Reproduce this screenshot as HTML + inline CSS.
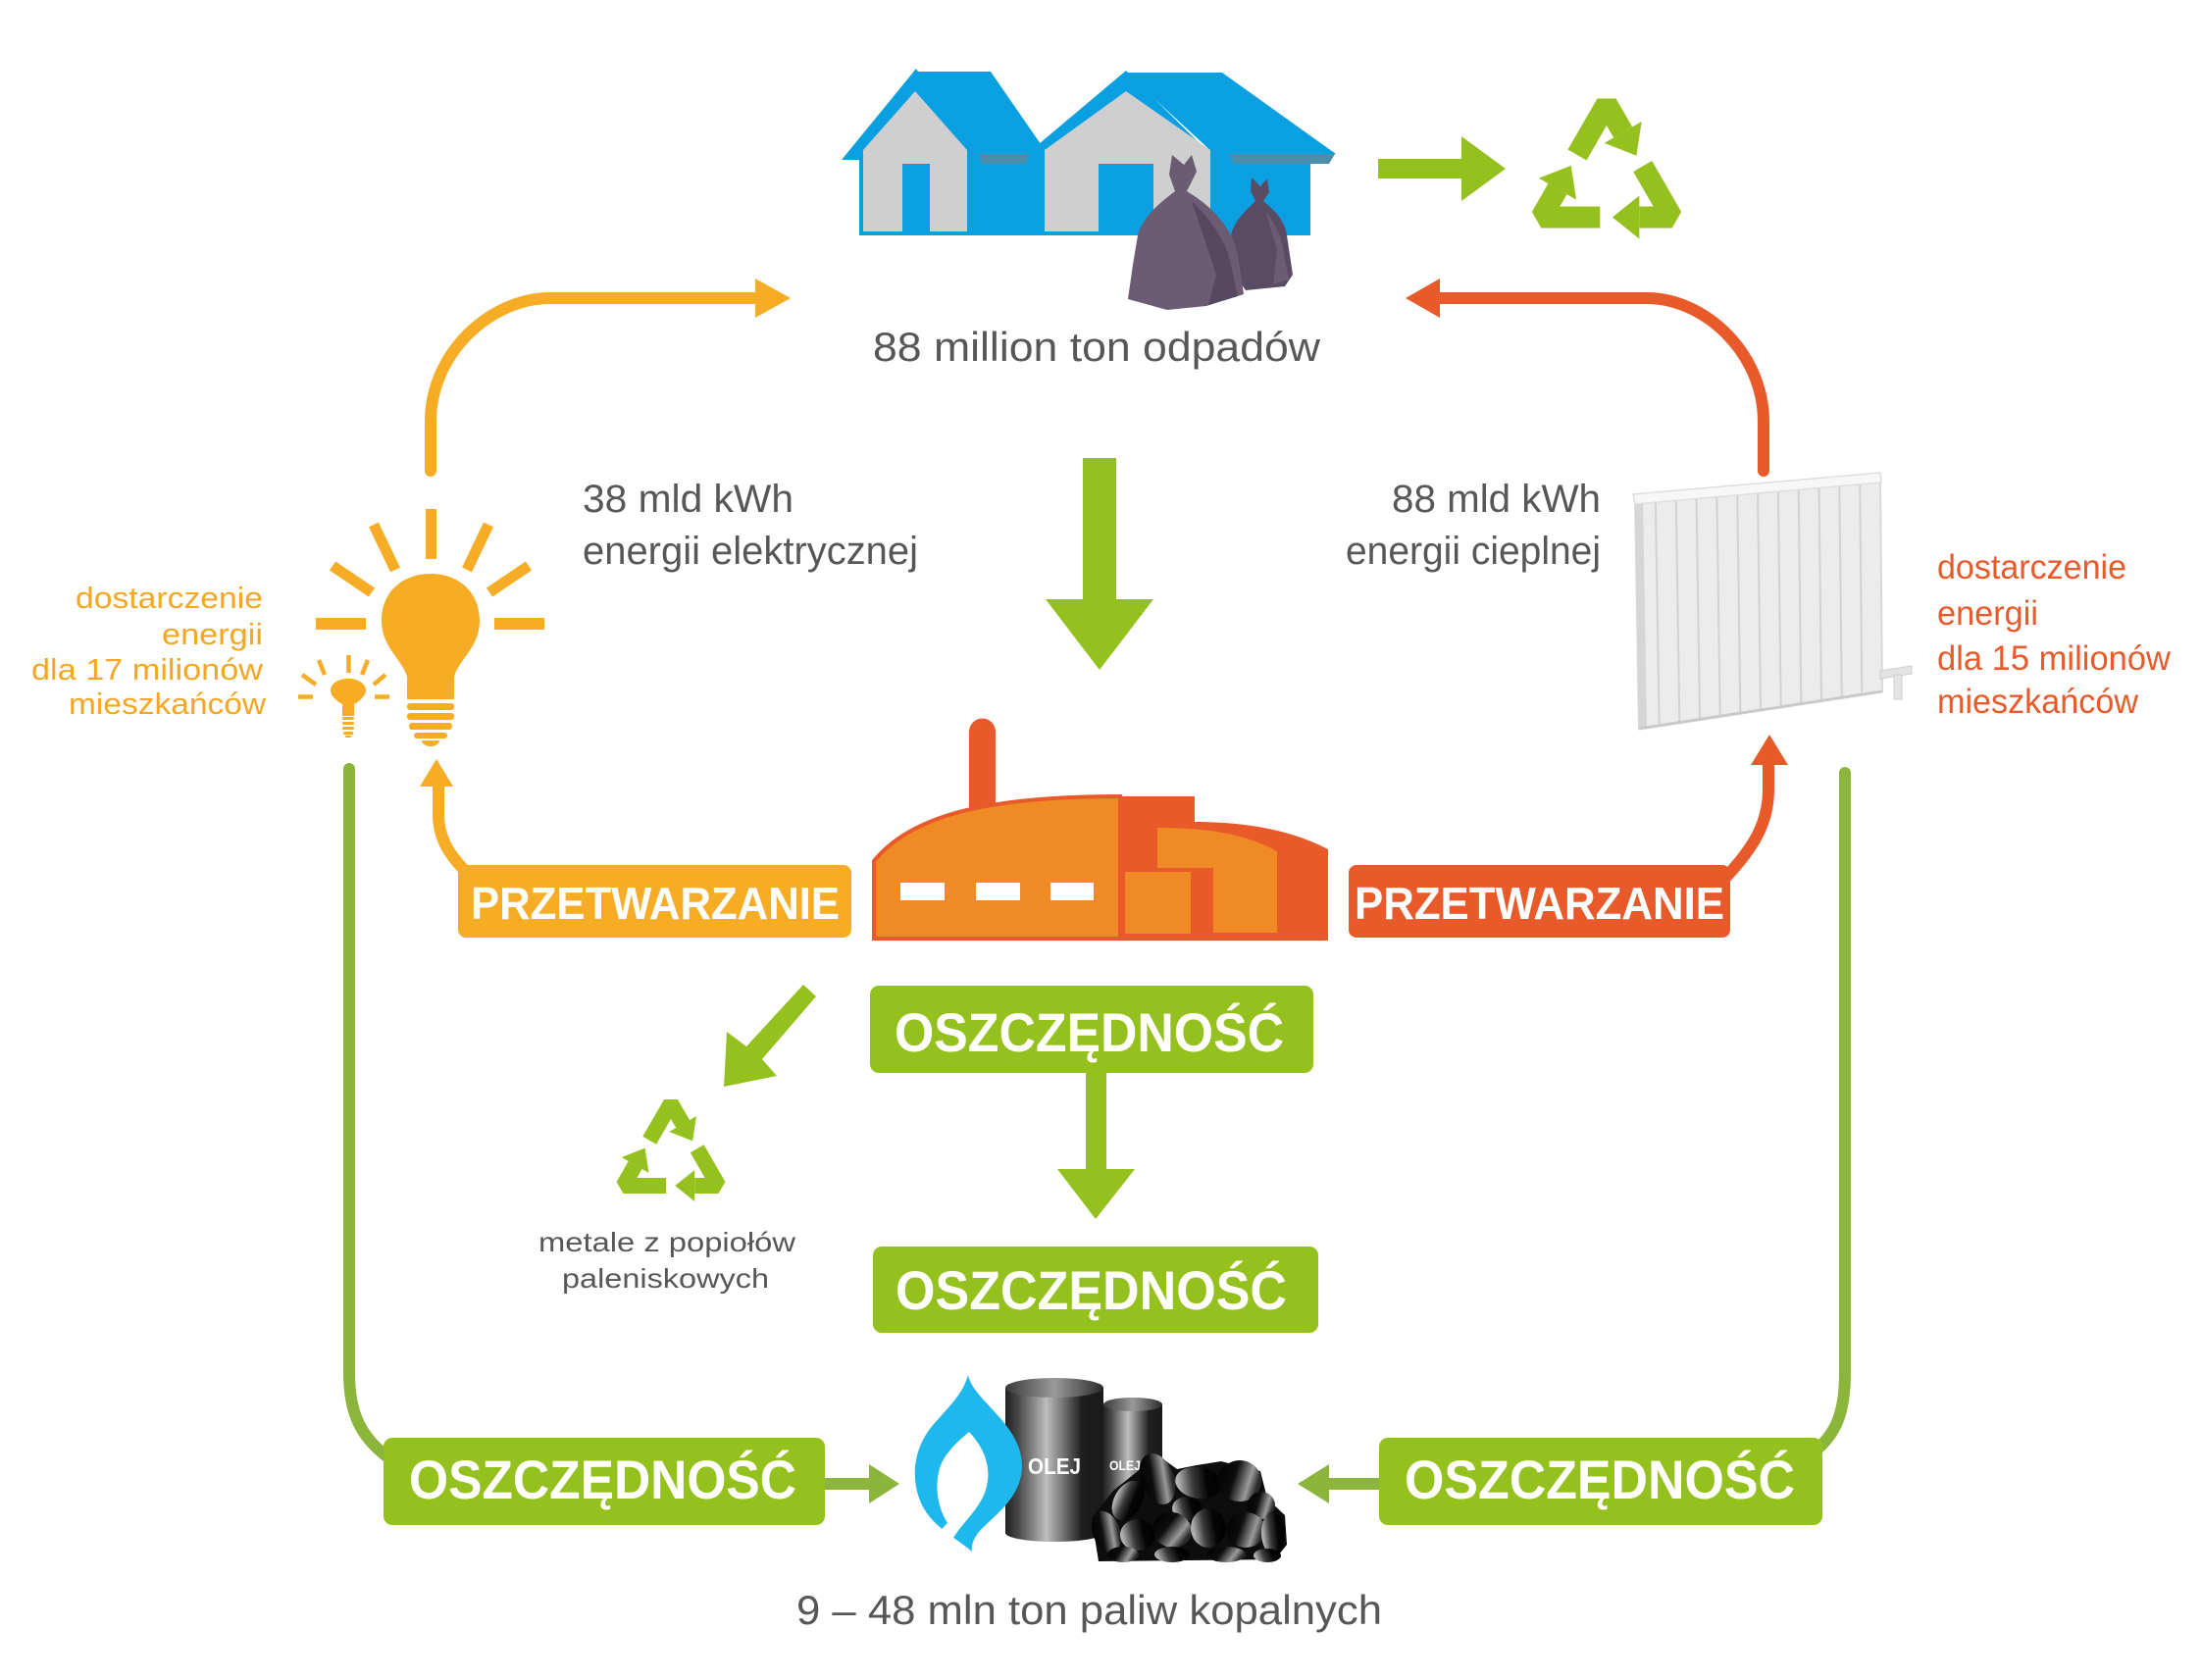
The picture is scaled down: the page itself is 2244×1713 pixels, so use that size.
<!DOCTYPE html>
<html><head><meta charset="utf-8"><style>html,body{margin:0;padding:0;background:#fff}svg{display:block}</style></head>
<body>
<svg width="2244" height="1713" viewBox="0 0 2244 1713" xmlns="http://www.w3.org/2000/svg" font-family="'Liberation Sans', sans-serif">
<defs>
<linearGradient id="bar" x1="0" y1="0" x2="1" y2="0">
<stop offset="0" stop-color="#222"/><stop offset="0.12" stop-color="#444"/><stop offset="0.42" stop-color="#bdbdbd"/><stop offset="0.62" stop-color="#666"/><stop offset="0.78" stop-color="#1e1e1e"/><stop offset="1" stop-color="#1a1a1a"/>
</linearGradient>
<linearGradient id="bartop" x1="0" y1="0" x2="1" y2="0">
<stop offset="0" stop-color="#3a3a3a"/><stop offset="0.5" stop-color="#9a9a9a"/><stop offset="1" stop-color="#2a2a2a"/>
</linearGradient>
<linearGradient id="g1" x1="0" y1="0" x2="1" y2="0.3">
<stop offset="0" stop-color="#000"/><stop offset="0.45" stop-color="#0d0d0d"/><stop offset="0.8" stop-color="#9a9a9a"/><stop offset="1" stop-color="#2a2a2a"/>
</linearGradient>
<linearGradient id="g2" x1="0" y1="0.2" x2="1" y2="0">
<stop offset="0" stop-color="#b0b0b0"/><stop offset="0.3" stop-color="#3a3a3a"/><stop offset="0.6" stop-color="#050505"/><stop offset="1" stop-color="#000"/>
</linearGradient>
</defs>
<rect width="2244" height="1713" fill="#fff"/>

<!-- Houses -->
<polygon points="934,73 1010,73 1068,157 990,157" fill="#0a9fe0"/>
<polygon points="858,163 934,70 995,163" fill="#0a9fe0"/>
<rect x="876" y="153" width="460" height="87" fill="#0a9fe0"/>
<polygon points="880,236 880,153 933,93 986,153 986,236" fill="#cfcfcf"/>
<polygon points="1148,74 1246,74 1362,157 1238,157" fill="#0a9fe0"/>
<polygon points="1040,163 1148,72 1240,163" fill="#0a9fe0"/>
<polygon points="1065,236 1065,153 1148,93 1234,153 1234,236" fill="#cfcfcf"/>
<rect x="920" y="167" width="28" height="69" fill="#0a9fe0"/>
<rect x="1120" y="167" width="56" height="69" fill="#0a9fe0"/>
<polygon points="998,157 1049,157 1046,167 1001,167" fill="#4a8eac"/>
<polygon points="1253,157 1361,157 1355,167 1258,167" fill="#4a8eac"/>
<!-- bags -->
<path d="M1276 181 L1285 190 L1292 182 L1294 196 L1288 205 C1300 215,1310 225,1312 240 L1318 280 L1310 292 L1270 296 L1262 285 L1255 240 C1258 225,1270 215,1280 205 L1275 195 Z" fill="#5a4b65"/>
<path d="M1195 158 L1207 168 L1215 158 L1220 175 L1210 195 C1235 210,1255 230,1262 260 L1268 300 L1230 312 L1190 316 L1150 305 L1155 270 L1160 240 C1165 220,1185 205,1198 195 L1192 178 Z" fill="#6b5b73"/>
<path d="M1215 205 C1235 225,1250 245,1255 270 L1262 302 L1232 311 L1240 280 Z" fill="#574862"/>
<path d="M1290 215 C1302 230,1308 245,1310 265 L1314 285 L1298 290 L1302 255 Z" fill="#6b5b73"/>

<!-- top right green arrow + recycle -->
<rect x="1405" y="162" width="90" height="20" fill="#95c11f"/>
<polygon points="1490,139 1535,172 1490,205" fill="#95c11f"/>
<g transform="translate(1638,183) scale(1.1)" fill="#95c11f">
<g><polyline points="-27.3,-22.75 0,-70 15.15,-43.75" fill="none" stroke="#95c11f" stroke-width="20" stroke-linejoin="bevel"/><polygon points="32.47,-53.75 27.65,-22.1 -2.17,-33.75"/></g>
<g transform="rotate(120)"><polyline points="-27.3,-22.75 0,-70 15.15,-43.75" fill="none" stroke="#95c11f" stroke-width="20" stroke-linejoin="bevel"/><polygon points="32.47,-53.75 27.65,-22.1 -2.17,-33.75"/></g>
<g transform="rotate(240)"><polyline points="-27.3,-22.75 0,-70 15.15,-43.75" fill="none" stroke="#95c11f" stroke-width="20" stroke-linejoin="bevel"/><polygon points="32.47,-53.75 27.65,-22.1 -2.17,-33.75"/></g>
</g>

<text x="890" y="368" font-size="42" fill="#575756" textLength="456" lengthAdjust="spacingAndGlyphs">88 million ton odpadów</text>

<!-- top curved arrows -->
<path d="M439 480 L439 430 C439 360,500 304,561 304 L775 304" fill="none" stroke="#f7ac25" stroke-width="12" stroke-linecap="round"/>
<polygon points="770,284 806,304 770,324" fill="#f7ac25"/>
<path d="M1798 480 L1798 430 C1798 360,1738 304,1679 304 L1466 304" fill="none" stroke="#e95a2b" stroke-width="12" stroke-linecap="round"/>
<polygon points="1468,284 1433,304 1468,324" fill="#e95a2b"/>

<!-- energy texts -->
<text x="594" y="522" font-size="40" fill="#575756" textLength="215" lengthAdjust="spacingAndGlyphs">38 mld kWh</text>
<text x="594" y="575" font-size="40" fill="#575756" textLength="342" lengthAdjust="spacingAndGlyphs">energii elektrycznej</text>
<text x="1419" y="522" font-size="40" fill="#575756" textLength="213" lengthAdjust="spacingAndGlyphs">88 mld kWh</text>
<text x="1372" y="575" font-size="40" fill="#575756" textLength="260" lengthAdjust="spacingAndGlyphs">energii cieplnej</text>

<!-- big down arrow -->
<rect x="1104" y="467" width="34" height="146" fill="#95c11f"/>
<polygon points="1066,611 1176,611 1121,683" fill="#95c11f"/>

<!-- Big bulb -->
<g fill="#f7ac25">
<path d="M415 713 L415 690 C410 672,389 660,389 633 C389 603,411 585,439 585 C467 585,489 603,489 633 C489 660,468 672,463 690 L463 713 Z"/>
<rect x="415" y="717" width="48" height="7" rx="3"/>
<rect x="415" y="727" width="48" height="7" rx="3"/>
<rect x="417" y="737" width="44" height="7" rx="3"/>
<rect x="422" y="747" width="34" height="6" rx="3"/>
<path d="M430 755 L448 755 A9 6 0 0 1 430 755 Z"/>
<path d="M349 730 L349 718 C342 714,337 709,337 704 C337 697,345 692,355 692 C365 692,373 697,373 704 C373 709,368 714,361 718 L361 730 Z"/>
<rect x="349" y="731" width="12" height="3" rx="1.5"/>
<rect x="349" y="736" width="12" height="3" rx="1.5"/>
<rect x="349" y="741" width="12" height="3" rx="1.5"/>
<rect x="350" y="746" width="10" height="3" rx="1.5"/>
<rect x="352" y="750" width="6" height="2" rx="1"/>
</g>
<g stroke="#f7ac25" stroke-width="11" fill="none">
<line x1="439.5" y1="519" x2="439.5" y2="570"/>
<line x1="381" y1="535" x2="403" y2="581"/>
<line x1="498" y1="535" x2="476" y2="581"/>
<line x1="339" y1="577" x2="379" y2="604"/>
<line x1="539" y1="577" x2="499" y2="604"/>
<line x1="322" y1="636" x2="373" y2="636" stroke-width="12"/>
<line x1="504" y1="636" x2="555" y2="636" stroke-width="12"/>
</g>
<g stroke="#f7ac25" stroke-width="4.5" fill="none">
<line x1="355.5" y1="668" x2="355.5" y2="686"/>
<line x1="325" y1="673" x2="331" y2="688"/>
<line x1="375" y1="673" x2="369" y2="688"/>
<line x1="308" y1="688" x2="322" y2="698"/>
<line x1="393" y1="688" x2="381" y2="698"/>
<line x1="304" y1="710.5" x2="319" y2="710.5"/>
<line x1="382" y1="710.5" x2="397" y2="710.5"/>
</g>

<g font-size="31" fill="#f5a623">
<text x="77" y="620" textLength="191" lengthAdjust="spacingAndGlyphs">dostarczenie</text>
<text x="165" y="657" textLength="103" lengthAdjust="spacingAndGlyphs">energii</text>
<text x="32" y="693" textLength="236" lengthAdjust="spacingAndGlyphs">dla 17 milionów</text>
<text x="70" y="728" textLength="201" lengthAdjust="spacingAndGlyphs">mieszkańców</text>
</g>

<!-- Radiator -->
<g transform="translate(-9,0)">
<path d="M1676 508 L1926 486 L1928 705 L1680 743 Z" fill="#ececec" stroke="#d9d9d9" stroke-width="2"/>
<polygon points="1676,508 1684,507 1688,742 1680,743" fill="#d6d6d6"/>
<g stroke="#d2d2d2" stroke-width="2">
<line x1="1696.8" y1="506.2" x2="1700.7" y2="739.8"/>
<line x1="1717.7" y1="504.3" x2="1721.3" y2="736.7"/>
<line x1="1738.5" y1="502.5" x2="1742" y2="733.5"/>
<line x1="1759.3" y1="500.7" x2="1762.7" y2="730.3"/>
<line x1="1780.2" y1="498.8" x2="1783.3" y2="727.2"/>
<line x1="1801" y1="497" x2="1804" y2="724"/>
<line x1="1821.8" y1="495.2" x2="1824.7" y2="720.8"/>
<line x1="1842.7" y1="493.3" x2="1845.3" y2="717.7"/>
<line x1="1863.5" y1="491.5" x2="1866" y2="714.5"/>
<line x1="1884.3" y1="489.7" x2="1886.7" y2="711.3"/>
<line x1="1905.2" y1="487.8" x2="1907.3" y2="708.2"/>
</g>
<polygon points="1674,504 1926,482 1927,492 1676,514" fill="#f7f7f7" stroke="#dedede" stroke-width="1.5"/>
<line x1="1680" y1="743" x2="1928" y2="705" stroke="#c9c9c9" stroke-width="3"/>
<polygon points="1926,684 1958,679 1958,687 1926,692" fill="#e4e4e4" stroke="#cfcfcf" stroke-width="1"/>
<rect x="1940" y="688" width="8" height="25" fill="#e4e4e4" stroke="#cfcfcf" stroke-width="1"/>
</g>

<g font-size="35" fill="#e95a2b">
<text x="1975" y="590" textLength="193" lengthAdjust="spacingAndGlyphs">dostarczenie</text>
<text x="1975" y="637" textLength="103" lengthAdjust="spacingAndGlyphs">energii</text>
<text x="1975" y="683" textLength="238" lengthAdjust="spacingAndGlyphs">dla 15 milionów</text>
<text x="1975" y="727" textLength="205" lengthAdjust="spacingAndGlyphs">mieszkańców</text>
</g>

<!-- green side lines -->
<path d="M356 784 L356 1400 C356 1440,367 1465,397 1487" fill="none" stroke="#8cb53c" stroke-width="12" stroke-linecap="round"/>
<path d="M1881 788 L1881 1400 C1881 1440,1872 1462,1850 1480" fill="none" stroke="#8cb53c" stroke-width="12" stroke-linecap="round"/>

<!-- lower arrows from PRZETWARZANIE -->
<path d="M447 800 L447 830 C447 855,458 872,478 892" fill="none" stroke="#f7ac25" stroke-width="12"/>
<polygon points="428,802 445,774 462,802" fill="#f7ac25"/>
<path d="M1803 778 L1803 805 C1803 840,1787 865,1760 894" fill="none" stroke="#e95a2b" stroke-width="12"/>
<polygon points="1785,780 1804,749 1823,780" fill="#e95a2b"/>

<!-- Factory -->
<path d="M988 835 L988 746 A13.5 13.5 0 0 1 1015 746 L1015 835 Z" fill="#e95a2b"/>
<path d="M891 957 L891 878 C930 830,1010 812,1142 812 L1142 957 Z" fill="#f08a25" stroke="#e95a2b" stroke-width="4"/>
<path d="M1140 812 L1218 812 L1218 838 C1275 838,1320 848,1354 866 L1354 959 L1140 959 Z" fill="#e95a2b"/>
<path d="M1180 844 C1230 844,1270 850,1302 868 L1302 951 L1237 951 L1237 885 L1180 885 Z" fill="#f08a25"/>
<rect x="1147" y="889" width="67" height="63" fill="#f08a25"/>
<rect x="918" y="900" width="45" height="18" fill="#fff"/>
<rect x="995" y="900" width="45" height="18" fill="#fff"/>
<rect x="1071" y="900" width="44" height="18" fill="#fff"/>

<!-- PRZETWARZANIE boxes -->
<rect x="467" y="882" width="401" height="74" rx="8" fill="#f7ac25"/>
<text x="480" y="937" font-size="46" font-weight="bold" fill="#fff" textLength="376" lengthAdjust="spacingAndGlyphs">PRZETWARZANIE</text>
<rect x="1375" y="882" width="389" height="74" rx="8" fill="#e95a2b"/>
<text x="1381" y="937" font-size="46" font-weight="bold" fill="#fff" textLength="377" lengthAdjust="spacingAndGlyphs">PRZETWARZANIE</text>

<!-- diagonal arrow + small recycle -->
<polygon points="819,1004 832,1016 777,1080 792,1097 738,1108 741,1052 761,1067" fill="#95c11f"/>
<g transform="translate(684,1181) scale(0.8)" fill="#95c11f">
<g><polyline points="-27.3,-22.75 0,-70 15.15,-43.75" fill="none" stroke="#95c11f" stroke-width="20" stroke-linejoin="bevel"/><polygon points="32.47,-53.75 27.65,-22.1 -2.17,-33.75"/></g>
<g transform="rotate(120)"><polyline points="-27.3,-22.75 0,-70 15.15,-43.75" fill="none" stroke="#95c11f" stroke-width="20" stroke-linejoin="bevel"/><polygon points="32.47,-53.75 27.65,-22.1 -2.17,-33.75"/></g>
<g transform="rotate(240)"><polyline points="-27.3,-22.75 0,-70 15.15,-43.75" fill="none" stroke="#95c11f" stroke-width="20" stroke-linejoin="bevel"/><polygon points="32.47,-53.75 27.65,-22.1 -2.17,-33.75"/></g>
</g>
<text x="549" y="1276" font-size="28" fill="#575756" textLength="262" lengthAdjust="spacingAndGlyphs">metale z popiołów</text>
<text x="573" y="1313" font-size="28" fill="#575756" textLength="211" lengthAdjust="spacingAndGlyphs">paleniskowych</text>

<!-- OSZCZEDNOSC center boxes -->
<rect x="887" y="1005" width="452" height="89" rx="9" fill="#95c11f"/>
<text x="912" y="1072" font-size="56" font-weight="bold" fill="#fff" textLength="397" lengthAdjust="spacingAndGlyphs">OSZCZĘDNOŚĆ</text>
<rect x="1107" y="1092" width="21" height="102" fill="#95c11f"/>
<polygon points="1078,1192 1157,1192 1117,1243" fill="#95c11f"/>
<rect x="890" y="1271" width="454" height="88" rx="9" fill="#95c11f"/>
<text x="913" y="1335" font-size="56" font-weight="bold" fill="#fff" textLength="399" lengthAdjust="spacingAndGlyphs">OSZCZĘDNOŚĆ</text>

<!-- bottom boxes -->
<rect x="391" y="1466" width="450" height="89" rx="9" fill="#95c11f"/>
<text x="417" y="1528" font-size="56" font-weight="bold" fill="#fff" textLength="395" lengthAdjust="spacingAndGlyphs">OSZCZĘDNOŚĆ</text>
<rect x="1406" y="1466" width="452" height="89" rx="9" fill="#95c11f"/>
<text x="1432" y="1528" font-size="56" font-weight="bold" fill="#fff" textLength="398" lengthAdjust="spacingAndGlyphs">OSZCZĘDNOŚĆ</text>
<rect x="841" y="1507" width="48" height="12" fill="#8cb53c"/>
<polygon points="886,1493 917,1513 886,1533" fill="#8cb53c"/>
<rect x="1352" y="1507" width="54" height="12" fill="#8cb53c"/>
<polygon points="1355,1493 1323,1513 1355,1533" fill="#8cb53c"/>

<!-- Fuels -->
<rect x="1125" y="1432" width="60" height="125" fill="url(#bar)"/>
<ellipse cx="1155" cy="1432" rx="30" ry="7" fill="url(#bartop)"/>
<text x="1131" y="1499" font-size="14" font-weight="bold" fill="#fff" textLength="32" lengthAdjust="spacingAndGlyphs">OLEJ</text>
<rect x="1025" y="1415" width="100" height="148" fill="url(#bar)"/>
<ellipse cx="1075" cy="1563" rx="50" ry="9" fill="url(#bar)"/>
<ellipse cx="1075" cy="1415" rx="50" ry="10" fill="url(#bartop)"/>
<text x="1048" y="1503" font-size="23" font-weight="bold" fill="#fff" textLength="54" lengthAdjust="spacingAndGlyphs">OLEJ</text>
<path d="M987 1402 C992 1428,1042 1452,1042 1495 C1042 1528,1010 1548,998 1562 C992 1570,990 1576,991 1582 C975 1568,948 1556,938 1530 C928 1505,932 1475,952 1452 C970 1432,982 1420,987 1402 Z" fill="#1fb8ec"/>
<path d="M988 1460 C1003 1476,1013 1497,1004 1522 C997 1540,982 1552,972 1568 L940 1580 L966 1553 C955 1535,953 1515,958 1497 C963 1482,976 1470,988 1460 Z" fill="#fff"/>
<!-- coal pile -->
<path d="M1113 1548 L1135 1520 L1160 1500 L1178 1482 L1200 1498 L1220 1494 L1245 1490 L1285 1500 L1292 1528 L1310 1545 L1312 1575 L1300 1590 L1120 1592 Z" fill="#0d0d0d"/>
<g>
<ellipse cx="1180" cy="1508" rx="17" ry="27" transform="rotate(-20 1180 1508)" fill="url(#g1)"/>
<ellipse cx="1222" cy="1512" rx="24" ry="16" transform="rotate(10 1222 1512)" fill="url(#g2)"/>
<ellipse cx="1264" cy="1510" rx="22" ry="21" fill="url(#g1)"/>
<ellipse cx="1150" cy="1530" rx="14" ry="22" transform="rotate(30 1150 1530)" fill="url(#g2)"/>
<ellipse cx="1210" cy="1538" rx="15" ry="12" fill="url(#g2)"/>
<ellipse cx="1286" cy="1535" rx="14" ry="14" fill="url(#g1)"/>
<ellipse cx="1128" cy="1562" rx="14" ry="22" transform="rotate(-20 1128 1562)" fill="url(#g1)"/>
<ellipse cx="1160" cy="1565" rx="18" ry="16" fill="url(#g2)"/>
<ellipse cx="1195" cy="1560" rx="20" ry="18" transform="rotate(20 1195 1560)" fill="url(#g1)"/>
<ellipse cx="1232" cy="1558" rx="18" ry="20" fill="url(#g2)"/>
<ellipse cx="1270" cy="1560" rx="20" ry="18" fill="url(#g1)"/>
<ellipse cx="1298" cy="1563" rx="12" ry="22" fill="url(#g2)"/>
<ellipse cx="1145" cy="1585" rx="16" ry="8" fill="url(#g1)"/>
<ellipse cx="1195" cy="1585" rx="18" ry="8" fill="url(#g2)"/>
<ellipse cx="1250" cy="1585" rx="20" ry="8" fill="url(#g1)"/>
<ellipse cx="1292" cy="1586" rx="14" ry="7" fill="url(#g2)"/>
</g>

<text x="812" y="1656" font-size="42" fill="#575756" textLength="597" lengthAdjust="spacingAndGlyphs">9 – 48 mln ton paliw kopalnych</text>
</svg>
</body></html>
